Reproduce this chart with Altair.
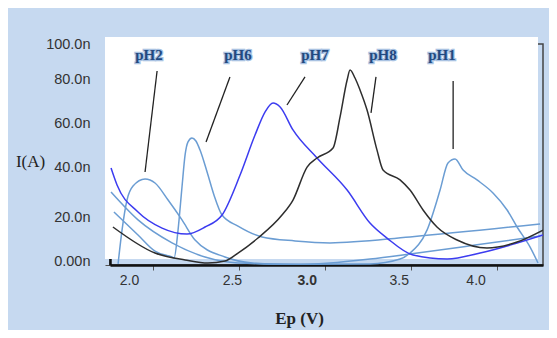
import altair as alt
import pandas as pd

# ---- series values (Ep in V, I in nA) ----
ph1_x = [1.756, 1.913, 2.111, 2.303, 2.495, 2.856, 3.263, 3.438, 3.496, 3.595, 3.671, 3.717, 3.758, 3.805, 3.886, 3.979, 4.061, 4.119, 4.195, 4.241]
ph1_y = [33.0, 20.4, 10.0, 3.6, 0.9, 0.3, 0.5, 2.7, 5.4, 15.8, 33.9, 46.2, 48.0, 43.0, 38.5, 32.6, 24.9, 17.2, 8.1, 0.9]

ph2_x = [1.797, 1.820, 1.849, 1.884, 1.954, 2.012, 2.088, 2.169, 2.245, 2.419, 2.577, 2.798, 3.030, 3.263, 3.496, 3.875, 4.253]
ph2_y = [0.5, 15.8, 29.4, 35.7, 38.9, 37.1, 29.4, 20.4, 11.3, 3.6, 0.9, 0.2, 0.9, 2.7, 5.0, 9.0, 13.1]

ph6_x = [1.773, 1.913, 2.012, 2.111, 2.123, 2.146, 2.169, 2.187, 2.204, 2.227, 2.250, 2.274, 2.315, 2.355, 2.402, 2.495, 2.635, 2.827, 3.030, 3.496, 4.253]
ph6_y = [24.0, 13.6, 6.3, 3.6, 3.2, 15.8, 35.3, 49.8, 55.7, 57.5, 56.1, 52.0, 42.1, 31.7, 22.6, 17.6, 12.7, 10.9, 10.0, 12.7, 18.6]

ph7_x = [1.756, 1.791, 1.913, 2.053, 2.198, 2.303, 2.402, 2.507, 2.594, 2.652, 2.699, 2.740, 2.815, 2.955, 3.130, 3.263, 3.362, 3.514, 3.712, 3.904, 4.078, 4.270]
ph7_y = [43.9, 36.2, 24.0, 16.7, 14.0, 17.2, 22.6, 40.7, 58.8, 69.2, 73.3, 71.5, 61.1, 48.4, 33.9, 19.0, 12.2, 4.5, 2.7, 5.4, 9.0, 13.6]

ph8_x = [1.767, 2.012, 2.187, 2.320, 2.419, 2.495, 2.611, 2.751, 2.815, 2.897, 2.955, 3.048, 3.089, 3.130, 3.147, 3.176, 3.205, 3.246, 3.304, 3.339, 3.438, 3.496, 3.572, 3.653, 3.770, 3.944, 4.119, 4.270]
ph8_y = [17.2, 5.4, 2.3, 0.9, 1.8, 5.4, 12.2, 22.6, 29.4, 44.3, 48.4, 52.9, 67.0, 83.7, 88.2, 84.6, 79.2, 70.1, 52.0, 43.0, 38.5, 33.9, 24.9, 17.2, 11.3, 7.7, 10.4, 15.8]

series_names = ["pH1", "pH2", "pH6", "pH7", "pH8"]
series_colors = ["#6b9dd3", "#6b9dd3", "#6b9dd3", "#3c3cf0", "#2e2e2e"]

# ---- annotations ----
label_text = ["pH2", "pH6", "pH7", "pH8", "pH1"]
label_x = [1.977, 2.495, 2.943, 3.339, 3.682]
label_y = [95.0, 95.0, 95.0, 95.0, 95.0]
pointer_x1 = [2.024, 2.448, 2.885, 3.298, 3.747]
pointer_y1 = [87.8, 85.1, 85.1, 85.1, 83.3]
pointer_x2 = [1.954, 2.309, 2.780, 3.269, 3.747]
pointer_y2 = [42.1, 55.7, 72.4, 68.8, 52.5]

x_ticks = [2.0, 2.5, 3.0, 3.5, 4.0]
y_ticks = [0, 20, 40, 60, 80, 100]

rows = []
for name, xs, ys in zip(series_names, [ph1_x, ph2_x, ph6_x, ph7_x, ph8_x], [ph1_y, ph2_y, ph6_y, ph7_y, ph8_y]):
    for i, (xv, yv) in enumerate(zip(xs, ys)):
        rows.append({"series": name, "order": i, "Ep": xv, "I": yv})
df = pd.DataFrame(rows)

ann = pd.DataFrame({"label": label_text, "lx": label_x, "ly": label_y,
                    "x1": pointer_x1, "y1": pointer_y1, "x2": pointer_x2, "y2": pointer_y2})

xscale = alt.Scale(domain=[1.75, 4.27], nice=False, zero=False)
yscale = alt.Scale(domain=[0, 100], nice=False, zero=False)

xaxis = alt.Axis(
    values=x_ticks, format=".1f", grid=False,
    labelFont="Liberation Sans", labelFontSize=14, labelColor="#333",
    labelFontWeight={"condition": {"test": "datum.value == 3", "value": "bold"}, "value": "normal"},
    labelOffset={"condition": [
        {"test": "datum.value == 2", "value": -24},
        {"test": "datum.value == 2.5", "value": -7},
        {"test": "datum.value == 3", "value": -18},
        {"test": "datum.value == 3.5", "value": -12}], "value": -21},
    labelPadding=3, tickSize=5, tickColor="#555", tickWidth=1,
    domainColor="#111", domainWidth=2.5,
    title="Ep (V)", titleFont="Liberation Serif", titleFontSize=17, titleFontWeight="bold",
    titleColor="#222", titleX=189, titleY=53, titleAlign="center", titleBaseline="middle",
)
yaxis = alt.Axis(
    values=y_ticks, grid=False,
    labelExpr="datum.value == 0 ? '0.00n' : format(datum.value, '.1f') + 'n'",
    labelFont="Liberation Sans", labelFontSize=14.5, labelColor="#333",
    labelOffset={"condition": [
        {"test": "datum.value == 100", "value": 0},
        {"test": "datum.value == 20", "value": -3},
        {"test": "datum.value == 0", "value": -4}], "value": -9},
    labelPadding=15, tickSize=5, tickColor="#555", tickWidth=1,
    domainColor="#111", domainWidth=2.5,
    title="I(A)", titleFont="Liberation Serif", titleFontSize=17, titleFontWeight="normal",
    titleColor="#222", titleAngle=0, titleX=-80, titleY=117, titleAlign="center", titleBaseline="middle",
)

bg = alt.Chart(pd.DataFrame({"a": [0]})).mark_rect(fill="white").encode(
    x=alt.value(-5), x2=alt.value(428), y=alt.value(-7), y2=alt.value(215))

lines = alt.Chart(df).mark_line(strokeWidth=1.5, interpolate="monotone", clip=True).encode(
    x=alt.X("Ep:Q", scale=xscale, axis=xaxis),
    y=alt.Y("I:Q", scale=yscale, axis=yaxis),
    color=alt.Color("series:N", scale=alt.Scale(domain=series_names, range=series_colors), legend=None),
    order=alt.Order("order:Q"),
)

pointers = alt.Chart(ann).mark_rule(color="#222", strokeWidth=1.3).encode(
    x=alt.X("x1:Q", scale=xscale), y=alt.Y("y1:Q", scale=yscale),
    x2="x2:Q", y2="y2:Q")

glow = alt.Chart(ann).mark_text(font="Liberation Serif", fontSize=15, fontWeight="bold",
                                stroke="#a9c2e2", strokeWidth=2.5, fill="#a9c2e2").encode(
    x=alt.X("lx:Q", scale=xscale), y=alt.Y("ly:Q", scale=yscale), text="label:N")
labels = alt.Chart(ann).mark_text(font="Liberation Serif", fontSize=15, fontWeight="bold",
                                  fill="#22497f").encode(
    x=alt.X("lx:Q", scale=xscale), y=alt.Y("ly:Q", scale=yscale), text="label:N")

chart = alt.layer(bg, lines, pointers, glow, labels).properties(
    width=433, height=221,
    autosize=alt.AutoSizeParams(type="none"),
    padding={"left": 102, "top": 36, "right": 6, "bottom": 65},
    background="#c6d9f0",
).configure_view(stroke="#444", strokeWidth=1.5)

chart.save("out.html", embed_options={"renderer": "svg", "actions": False})
